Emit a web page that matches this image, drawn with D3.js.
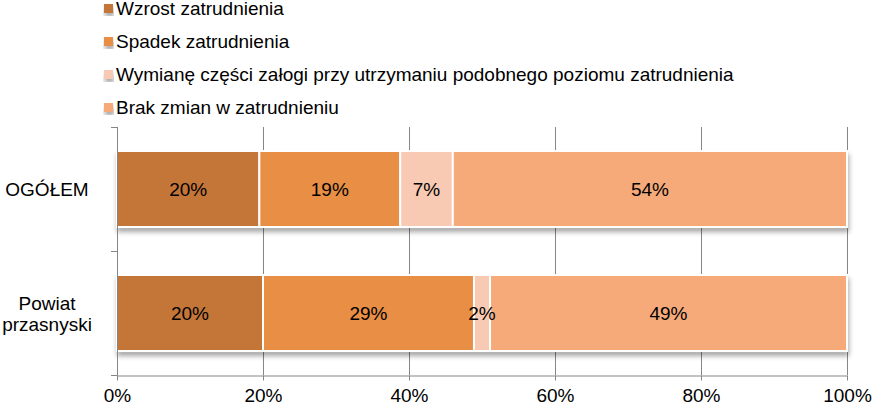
<!DOCTYPE html>
<html>
<head>
<meta charset="utf-8">
<script src="https://cdn.jsdelivr.net/npm/d3@7/dist/d3.min.js"></script>
<style>
  html, body { margin: 0; padding: 0; background: #fff; }
  svg { display: block; font-family: "Liberation Sans", Arial, sans-serif; }
</style>
</head>
<body>
<svg id="chart" width="874" height="404"></svg>
<script>
// ---- data ----
const categories = ["OGÓŁEM", "Powiat przasnyski"];
const seriesNames = [
  "Wzrost zatrudnienia",
  "Spadek zatrudnienia",
  "Wymianę części załogi przy utrzymaniu podobnego poziomu zatrudnienia",
  "Brak zmian w zatrudnieniu"
];
const wzrost = [19.5, 20.0];
const spadek = [19.3, 28.9];
const wymiana = [7.2, 2.2];
const brak = [54.0, 48.9];
const xTicks = [0, 20, 40, 60, 80, 100];
const colors = ["#C47637", "#E88E44", "#F8CAB3", "#F6AA7A"];

// ---- build ----
const seriesValues = [wzrost, spadek, wymiana, brak];
const rows = categories.map((c, i) => {
  const r = { cat: c };
  seriesNames.forEach((s, k) => r[s] = seriesValues[k][i]);
  return r;
});
const stacked = d3.stack().keys(seriesNames)(rows);

const svg = d3.select("#chart");
const mLeft = 117, mRight = 847, mTop = 127, mBottom = 375;
const FS = 19;

const x = d3.scaleLinear().domain([0, 100]).range([mLeft, mRight]);
const y = d3.scaleBand().domain(categories).range([mTop, mBottom])
  .paddingInner(0.387).paddingOuter(0.1935);

const defs = svg.append("defs");
const f = defs.append("filter").attr("id", "shadow")
  .attr("x", "-5%").attr("y", "-20%").attr("width", "110%").attr("height", "150%");
f.append("feDropShadow").attr("dx", 1).attr("dy", 4).attr("stdDeviation", 2.5)
  .attr("flood-color", "#000").attr("flood-opacity", 0.35);

const gridColor = "#868686";

// gridlines
svg.append("g").selectAll("line").data(xTicks.slice(1)).join("line")
  .attr("x1", d => x(d) + 0.5).attr("x2", d => x(d) + 0.5)
  .attr("y1", mTop).attr("y2", mBottom)
  .attr("stroke", gridColor).attr("stroke-width", 1);

// bars
const barsG = svg.append("g").attr("filter", "url(#shadow)");
stacked.forEach((layer, k) => {
  barsG.append("g").selectAll("rect").data(layer).join("rect")
    .attr("x", d => x(d[0]))
    .attr("width", d => x(d[1]) - x(d[0]))
    .attr("y", d => y(d.data.cat))
    .attr("height", y.bandwidth())
    .attr("fill", colors[k])
    .attr("stroke", "#fff").attr("stroke-width", 2);
});

// data labels
const labG = svg.append("g").attr("font-size", FS).attr("fill", "#000").attr("text-anchor", "middle");
stacked.forEach((layer) => {
  labG.append("g").selectAll("text").data(layer).join("text")
    .attr("x", d => (x(d[0]) + x(d[1])) / 2)
    .attr("y", d => y(d.data.cat) + y.bandwidth() / 2 + 7)
    .text(d => Math.round(d[1] - d[0]) + "%");
});

// x axis
const xAxis = svg.append("g").attr("transform", `translate(0,${mBottom + 0.5})`)
  .call(d3.axisBottom(x).tickValues(xTicks).tickSize(5).tickSizeOuter(0).tickFormat(d => d + "%"));
xAxis.select(".domain").attr("stroke", gridColor);
xAxis.selectAll(".tick line").attr("stroke", gridColor);
xAxis.selectAll(".tick text").attr("font-size", FS).attr("fill", "#000")
  .attr("font-family", "Liberation Sans, Arial, sans-serif").attr("dy", null).attr("y", 26);

// y axis (boundaries between bands)
const step = y.step();
const yBounds = categories.map(c => y(c) - step * y.paddingInner() / 2).concat([mBottom]);
const yAxisG = svg.append("g");
yAxisG.append("line").attr("x1", mLeft + 0.5).attr("x2", mLeft + 0.5)
  .attr("y1", mTop).attr("y2", mBottom + 0.5).attr("stroke", gridColor);
yAxisG.selectAll("line.t").data([mTop].concat(yBounds.slice(1))).join("line")
  .attr("class", "t")
  .attr("x1", mLeft - 6).attr("x2", mLeft + 0.5)
  .attr("y1", d => Math.round(d) + 0.5).attr("y2", d => Math.round(d) + 0.5)
  .attr("stroke", gridColor);

// category labels
categories.forEach(c => {
  const words = c === "OGÓŁEM" ? [c] : c.split(" ");
  const cy = y(c) + y.bandwidth() / 2;
  const t = svg.append("text").attr("x", 47).attr("text-anchor", "middle")
    .attr("font-size", FS).attr("fill", "#000");
  const lh = 21;
  words.forEach((w, i) => {
    t.append("tspan").attr("x", 47)
      .attr("y", cy + 7 + (i - (words.length - 1) / 2) * lh).text(w);
  });
});

// legend
const lg = svg.append("g");
seriesNames.forEach((s, k) => {
  const by = 15 + k * 33;
  lg.append("rect").attr("x", 104).attr("y", by - 11).attr("width", 9).attr("height", 9)
    .attr("fill", colors[k]).attr("filter", "url(#shadow)");
  lg.append("text").attr("x", 116).attr("y", by).attr("font-size", FS)
    .attr("fill", "#000").text(s);
});
</script>
</body>
</html>
